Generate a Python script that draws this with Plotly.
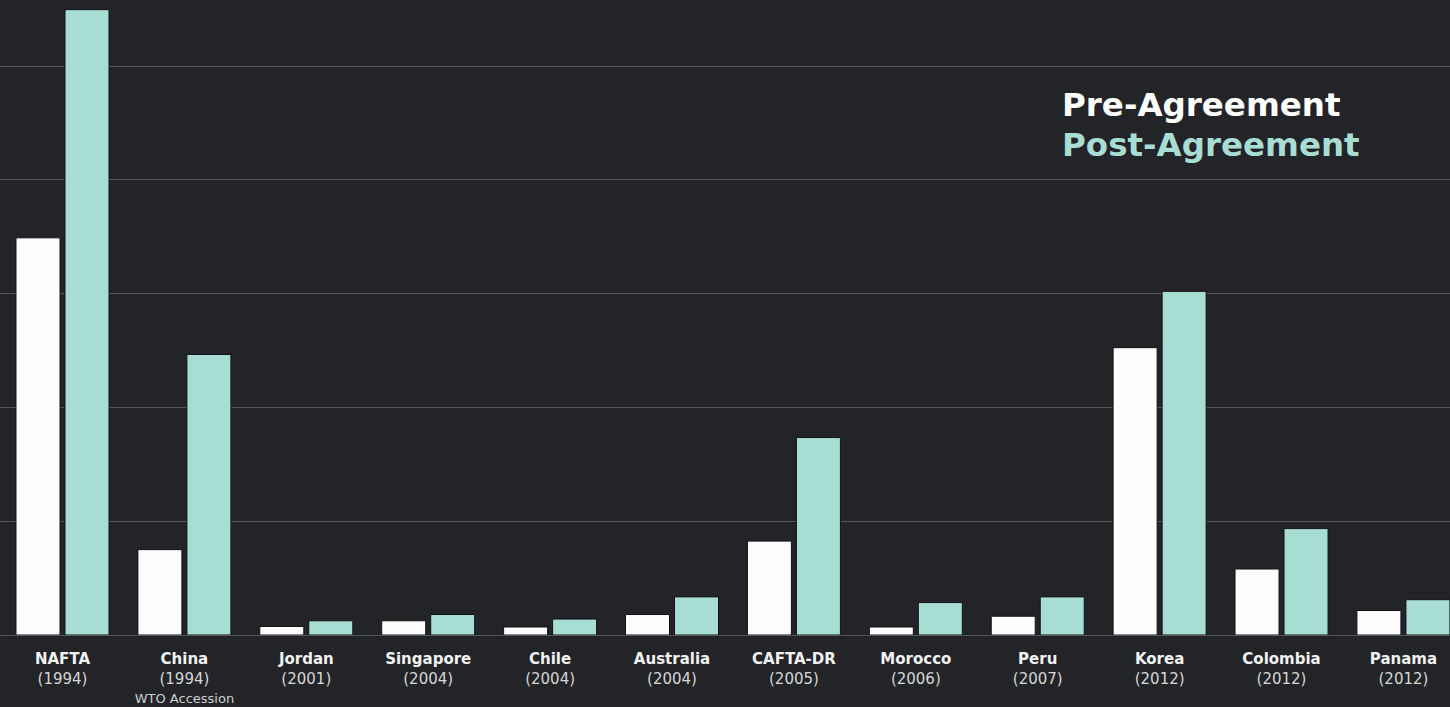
import plotly.graph_objects as go

# ---- data (one gridline = 20 units) ----
agreements = ["NAFTA", "China", "Jordan", "Singapore", "Chile", "Australia",
              "CAFTA-DR", "Morocco", "Peru", "Korea", "Colombia", "Panama"]
years = ["1994", "1994", "2001", "2004", "2004", "2004",
         "2005", "2006", "2007", "2012", "2012", "2012"]
notes = ["", "WTO Accession", "", "", "", "", "", "", "", "", "", ""]
pre_agreement = [69.8, 15.0, 1.5, 2.5, 1.4, 3.6, 16.5, 1.4, 3.3, 50.5, 11.6, 4.3]
post_agreement = [109.9, 49.3, 2.5, 3.6, 2.8, 6.7, 34.7, 5.7, 6.7, 60.4, 18.7, 6.2]

BG = "#222428"
TEAL = "#a8ddd4"
WHITE = "#fdfdfd"
GRID = "#55585b"
FONT = "DejaVu Sans"

tick_text = []
for name, yr, note in zip(agreements, years, notes):
    t = f"<b>{name}</b><br><span style='color:#d6d6d6'>({yr})</span>"
    if note:
        t += f"<br><span style='font-size:13px;color:#cfcfcf'>{note}</span>"
    tick_text.append(t)

fig = go.Figure()
fig.add_trace(go.Bar(x=agreements, y=pre_agreement, name="Pre-Agreement",
                     marker=dict(color=WHITE, line=dict(color="#111214", width=1))))
fig.add_trace(go.Bar(x=agreements, y=post_agreement, name="Post-Agreement",
                     marker=dict(color=TEAL, line=dict(color="#111214", width=1))))

fig.add_annotation(x=0.7310, y=0.835, xref="paper", yref="paper",
                   xanchor="left", yanchor="middle", showarrow=False,
                   text="<b>Pre-Agreement</b>",
                   font=dict(family=FONT, size=32.5, color="#ffffff"))
fig.add_annotation(x=0.7310, y=0.771, xref="paper", yref="paper",
                   xanchor="left", yanchor="middle", showarrow=False,
                   text="<b>Post-Agreement</b>",
                   font=dict(family=FONT, size=32.5, color=TEAL))

fig.update_layout(
    width=1450, height=707,
    margin=dict(l=0, r=0, t=0, b=72, pad=0),
    paper_bgcolor=BG, plot_bgcolor=BG,
    barmode="group", bargap=0.196, bargroupgap=0.102,
    showlegend=False,
    font=dict(family=FONT, color="#f2f2f2", size=15),
    xaxis=dict(type="category", range=[-0.5127, 11.382],
               tickvals=agreements, ticktext=tick_text,
               showgrid=False, ticks="", showline=False,
               tickfont=dict(family=FONT, size=15, color="#f2f2f2"),
               ticklabelstandoff=13),
    yaxis=dict(range=[0, 111.6], dtick=20, showticklabels=False,
               showgrid=True, gridcolor=GRID, gridwidth=1,
               zeroline=True, zerolinecolor=GRID, zerolinewidth=1,
               ticks="", showline=False),
)

fig.write_html("out.html",
               config={"displayModeBar": False},
               post_script="document.body.style.margin='0';"
                           "document.body.style.background='" + BG + "';")
